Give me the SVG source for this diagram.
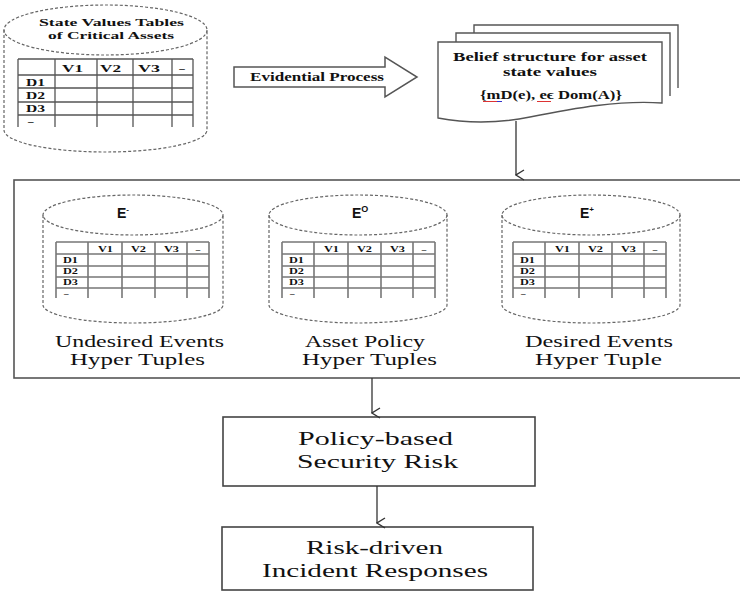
<svg xmlns="http://www.w3.org/2000/svg" xmlns:xlink="http://www.w3.org/1999/xlink" width="740" height="595" viewBox="0 0 740 595">
  <style>
    .cyl { fill: none; stroke: #666; stroke-width: 1.2; stroke-dasharray: 3 2; }
    .tbl { stroke: #555; stroke-width: 1.3; fill: none; }
    .tbl2 { stroke: #777; stroke-width: 1.6; fill: none; }
    .box { fill: #fff; stroke: #444; stroke-width: 1.6; }
    .frame { fill: none; stroke: #555; stroke-width: 1.6; }
    .conn { fill: none; stroke: #333; stroke-width: 1.3; }
    .serifb { font-family: "Liberation Serif", "Times New Roman", serif; font-weight: bold; fill: #111; }
    .serif { font-family: "Liberation Serif", "Times New Roman", serif; fill: #111; }
    .sansb { font-family: "Liberation Sans", Arial, sans-serif; font-weight: bold; fill: #111; }
    .sq { stroke-width: 1; fill: none; }
  </style>
  <defs>
    <marker id="vhead" viewBox="0 0 12 12" refX="6" refY="11" markerWidth="12" markerHeight="12" markerUnits="userSpaceOnUse" orient="auto-start-reverse">
      <path d="M1,3 L6,11 L11,3" fill="none" stroke="#333" stroke-width="1.4"/>
    </marker>
    <!-- small hyper-tuple table used inside the three event stores -->
    <g id="tuple-table">
      <path class="tbl2" d="M0,0 H153 M0,12 H153 M0,24 H153 M0,35 H153 M0,46 H153 M0,0 V56 M32,0 V56 M66,0 V56 M99,0 V56 M131,0 V56 M153,0 V56"/>
      <g class="serifb" font-size="9">
        <text x="42" y="10" textLength="15" lengthAdjust="spacingAndGlyphs">V1</text>
        <text x="75" y="10" textLength="15" lengthAdjust="spacingAndGlyphs">V2</text>
        <text x="108" y="10" textLength="15" lengthAdjust="spacingAndGlyphs">V3</text>
        <text x="142" y="10" text-anchor="middle">–</text>
        <text x="7" y="21" textLength="15" lengthAdjust="spacingAndGlyphs">D1</text>
        <text x="7" y="32" textLength="15" lengthAdjust="spacingAndGlyphs">D2</text>
        <text x="7" y="43" textLength="15" lengthAdjust="spacingAndGlyphs">D3</text>
        <text x="8" y="54">–</text>
      </g>
    </g>
  </defs>

  <rect width="740" height="595" fill="#fff"/>

  <!-- state values store -->
  <g id="state-values">
    <ellipse class="cyl" cx="105.5" cy="30" rx="101.5" ry="25"/>
    <path class="cyl" d="M4,30 V130 A101.5,22 0 0 0 207,130 V30"/>
    <text class="serifb" font-size="11" x="39" y="26" textLength="145" lengthAdjust="spacingAndGlyphs">State Values Tables</text>
    <text class="serifb" font-size="11" x="48" y="39" textLength="126" lengthAdjust="spacingAndGlyphs">of Critical Assets</text>
    <path class="tbl" d="M18,59 H193 M18,75 H193 M18,88 H193 M18,102 H193 M18,115 H193 M18,59 V127 M55,59 V127 M97,59 V127 M133,59 V127 M172,59 V127 M193,59 V127"/>
    <g class="serifb" font-size="11">
      <text x="62" y="72" textLength="21" lengthAdjust="spacingAndGlyphs">V1</text>
      <text x="100" y="72" textLength="21" lengthAdjust="spacingAndGlyphs">V2</text>
      <text x="138" y="72" textLength="22" lengthAdjust="spacingAndGlyphs">V3</text>
      <text x="182" y="72" text-anchor="middle">–</text>
      <text x="26" y="86" textLength="19" lengthAdjust="spacingAndGlyphs">D1</text>
      <text x="26" y="99" textLength="19" lengthAdjust="spacingAndGlyphs">D2</text>
      <text x="26" y="112" textLength="19" lengthAdjust="spacingAndGlyphs">D3</text>
      <text x="28" y="125">–</text>
    </g>
  </g>

  <!-- evidential process block arrow -->
  <g id="evidential-process">
    <polygon points="234,67 385,67 385,57 417,77 385,97 385,87 234,87" fill="#fff" stroke="#555" stroke-width="1.5"/>
    <text class="serifb" font-size="12" x="250" y="81" textLength="134" lengthAdjust="spacingAndGlyphs">Evidential Process</text>
  </g>

  <!-- belief structure (stacked documents) -->
  <g id="belief-structure">
    <path d="M474,33 V25 H678 V88" fill="none" stroke="#555" stroke-width="1.4"/>
    <path d="M456,42 V33 H670 V96" fill="none" stroke="#555" stroke-width="1.4"/>
    <path d="M438,42 H662 V103 C620,100 575,108 530,117 C495,124 465,123 438,118 Z" fill="#fff" stroke="#555" stroke-width="1.4"/>
    <text class="serifb" font-size="13" x="453" y="61" textLength="194" lengthAdjust="spacingAndGlyphs">Belief structure for asset</text>
    <text class="serifb" font-size="13" x="503" y="76" textLength="94" lengthAdjust="spacingAndGlyphs">state values</text>
    <text class="serifb" font-size="12" x="480" y="99" textLength="142" lengthAdjust="spacingAndGlyphs">{mD(e), eϵ Dom(A)}</text>
    <path class="sq" stroke="#d33" d="M483,101.5 H497"/>
    <path class="sq" stroke="#33c" d="M497,101.5 H502"/>
    <path class="sq" stroke="#d33" d="M537,101.5 H551"/>
  </g>

  <!-- event hyper tuple stores -->
  <rect class="frame" x="14" y="180" width="732" height="198"/>

  <g id="undesired-events">
    <ellipse class="cyl" cx="133" cy="215" rx="90" ry="20"/>
    <path class="cyl" d="M43,215 V305 A90,18 0 0 0 223,305 V215"/>
    <text class="sansb" font-size="14" x="117" y="218">E<tspan font-size="8" dy="-6">-</tspan></text>
    <use xlink:href="#tuple-table" x="56" y="242"/>
    <text class="serif" font-size="17" x="55" y="347" textLength="169" lengthAdjust="spacingAndGlyphs">Undesired Events</text>
    <text class="serif" font-size="17" x="70" y="365" textLength="135" lengthAdjust="spacingAndGlyphs">Hyper Tuples</text>
  </g>

  <g id="asset-policy">
    <ellipse class="cyl" cx="358" cy="215" rx="89" ry="20"/>
    <path class="cyl" d="M269,215 V305 A89,18 0 0 0 447,305 V215"/>
    <text class="sansb" font-size="14" x="352" y="218">E<tspan font-size="9" dy="-6">O</tspan></text>
    <use xlink:href="#tuple-table" x="282" y="242"/>
    <text class="serif" font-size="17" x="305" y="347" textLength="120" lengthAdjust="spacingAndGlyphs">Asset Policy</text>
    <text class="serif" font-size="17" x="302" y="365" textLength="135" lengthAdjust="spacingAndGlyphs">Hyper Tuples</text>
  </g>

  <g id="desired-events">
    <ellipse class="cyl" cx="591" cy="215" rx="89" ry="20"/>
    <path class="cyl" d="M502,215 V305 A89,18 0 0 0 680,305 V215"/>
    <text class="sansb" font-size="14" x="580" y="218">E<tspan font-size="8" dy="-6">+</tspan></text>
    <use xlink:href="#tuple-table" x="513" y="242"/>
    <text class="serif" font-size="17" x="525" y="347" textLength="148" lengthAdjust="spacingAndGlyphs">Desired Events</text>
    <text class="serif" font-size="17" x="535" y="365" textLength="127" lengthAdjust="spacingAndGlyphs">Hyper Tuple</text>
  </g>

  <!-- downstream steps -->
  <g id="policy-risk">
    <rect class="box" x="223" y="417" width="312" height="69"/>
    <text class="serif" font-size="19" x="298" y="445" textLength="155" lengthAdjust="spacingAndGlyphs">Policy-based</text>
    <text class="serif" font-size="19" x="297" y="468" textLength="161" lengthAdjust="spacingAndGlyphs">Security Risk</text>
  </g>

  <g id="incident-responses">
    <rect class="box" x="222" y="527" width="311" height="63"/>
    <text class="serif" font-size="19" x="306" y="554" textLength="137" lengthAdjust="spacingAndGlyphs">Risk-driven</text>
    <text class="serif" font-size="19" x="262" y="577" textLength="226" lengthAdjust="spacingAndGlyphs">Incident Responses</text>
  </g>

  <!-- connectors -->
  <g id="connectors">
    <path class="conn" d="M516,121 V175" marker-end="url(#vhead)"/>
    <path class="conn" d="M372,378 V413" marker-end="url(#vhead)"/>
    <path class="conn" d="M377,486 V523" marker-end="url(#vhead)"/>
  </g>
</svg>
